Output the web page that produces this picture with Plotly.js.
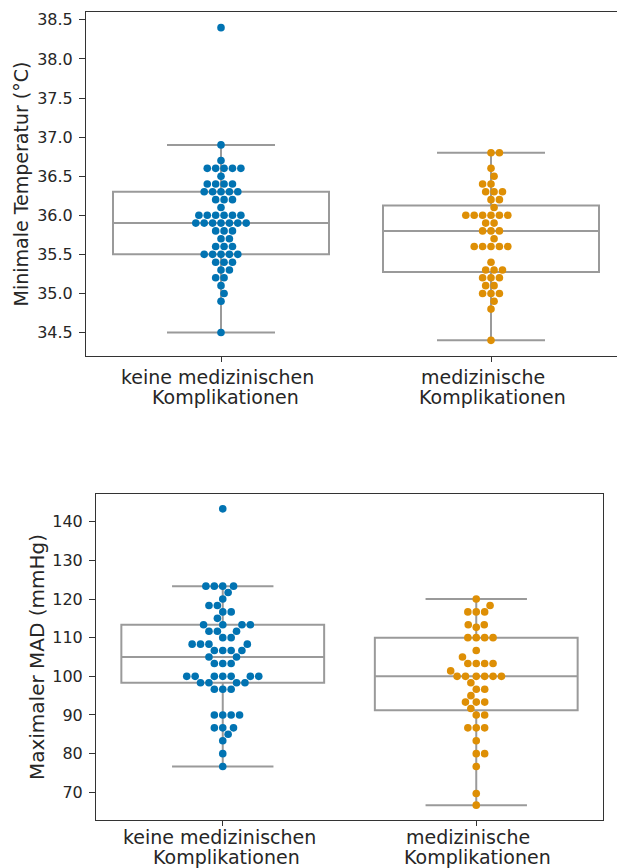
<!DOCTYPE html>
<html>
<head>
<meta charset="utf-8">
<script src="https://cdn.plot.ly/plotly-3.0.1.min.js"></script>
<style>html,body{margin:0;padding:0;background:#fff;}#chart{width:617px;height:868px;}</style>
</head>
<body>
<div id="chart"></div>
<script>
// ---------- data ----------
const categoryLine1 = ['keine medizinischen', 'medizinische'];
const categoryLine2 = ['Komplikationen', 'Komplikationen'];

const tempKeine = [38.4, 36.9, 36.7, 36.6, 36.6, 36.6, 36.6, 36.6, 36.5, 36.4, 36.4, 36.4, 36.4,
  36.3, 36.3, 36.3, 36.3, 36.3, 36.2, 36.2, 36.2, 36.1, 36.0, 36.0, 36.0, 36.0, 36.0, 36.0,
  35.9, 35.9, 35.9, 35.9, 35.9, 35.9, 35.9, 35.8, 35.8, 35.8, 35.7, 35.7, 35.6, 35.6, 35.6,
  35.5, 35.5, 35.5, 35.5, 35.5, 35.4, 35.4, 35.4, 35.3, 35.3, 35.2, 35.2, 35.1, 35.0, 34.9, 34.5];

const tempMed = [36.8, 36.8, 36.6, 36.5, 36.4, 36.4, 36.3, 36.3, 36.3, 36.2, 36.2, 36.1,
  36.0, 36.0, 36.0, 36.0, 36.0, 36.0, 35.9, 35.9, 35.8, 35.8, 35.8, 35.7,
  35.6, 35.6, 35.6, 35.6, 35.6, 35.4, 35.3, 35.3, 35.3, 35.2, 35.2, 35.2,
  35.1, 35.1, 35.0, 35.0, 35.0, 34.9, 34.8, 34.4];

const madKeine = [143.33, 123.33, 123.33, 123.33, 123.33, 121.67, 120, 118.33, 118.33,
  116.67, 116.67, 115, 113.33, 113.33, 113.33, 113.33, 111.67, 111.67, 111.67, 110, 110,
  108.33, 108.33, 108.33, 108.33, 106.67, 106.67, 106.67, 106.67, 105, 105,
  103.33, 103.33, 103.33, 100, 100, 100, 100, 100, 100, 100, 98.33, 98.33, 98.33, 98.33,
  96.67, 96.67, 96.67, 90, 90, 90, 90, 86.67, 86.67, 86.67, 85, 83.33, 80, 76.67];

const madMed = [120, 118.33, 116.67, 116.67, 116.67, 113.33, 113.33, 112.67, 110, 110, 110, 110,
  106.67, 105, 103.33, 103.33, 103.33, 103.33, 101.4, 100, 100, 100, 100, 100, 100,
  98.33, 96.67, 96.67, 95, 93.33, 93.33, 93.33, 91.67, 90, 90, 86.67, 86.67, 86.67,
  83.33, 80, 80, 76.67, 69.67, 66.67];

// box statistics: [keine, medizinische]
const tempQ1 = [35.5, 35.275], tempMedian = [35.9, 35.8], tempQ3 = [36.3, 36.125];
const tempLow = [34.5, 34.4], tempHigh = [36.9, 36.8];
const madQ1 = [98.33, 91.25], madMedian = [105, 100], madQ3 = [113.33, 110];
const madLow = [76.67, 66.67], madHigh = [123.33, 120];

const yTitles = ['Minimale Temperatur (°C)', 'Maximaler MAD (mmHg)'];
const colors = ['#0173b2', '#de8f05'];

// ---------- layout geometry ----------
const W = 617, H = 868;
const gTop = {x0: 86, x1: 617, y0: 12, y1: 356, xr: [-0.5, -0.5 + (617 - 86) / 270], yr: [34.2, 38.6],
  lab1: 376.5, lab2: 397};
const gBot = {x0: 96, x1: 603, y0: 494, y1: 820, xr: [-0.5, 1.5], yr: [62.83, 147.17],
  lab1: 837, lab2: 856.5};
const shift1 = [-3.5, -8.5], shift2 = [4, 1.5];

// ---------- swarm ----------
function swarm(values, pxPerY, pxPerX, d) {
  const idx = values.map((v, i) => i).sort((a, b) => values[a] - values[b]);
  const placed = [];
  const offs = new Array(values.length).fill(0);
  idx.forEach(i => {
    const y = values[i] * pxPerY;
    const neigh = placed.filter(p => Math.abs(p.y - y) < d);
    const cands = [0];
    neigh.forEach(p => {
      const dx = Math.sqrt(d * d - (p.y - y) * (p.y - y));
      cands.push(p.x + dx + 1e-6, p.x - dx - 1e-6);
    });
    cands.sort((a, b) => Math.abs(a) - Math.abs(b) || b - a);
    let x = 0;
    for (const c of cands) {
      if (neigh.every(p => (p.x - c) ** 2 + (p.y - y) ** 2 >= d * d - 1e-6)) { x = c; break; }
    }
    placed.push({x, y});
    offs[i] = x / pxPerX;
  });
  return offs;
}

function makeTraces(groups, q1, med, q3, lo, hi, g, ax) {
  const pxY = (g.y1 - g.y0) / (g.yr[1] - g.yr[0]);
  const pxX = (g.x1 - g.x0) / (g.xr[1] - g.xr[0]);
  const tr = [];
  groups.forEach((vals, k) => {
    tr.push({
      type: 'box', x: [k], q1: [q1[k]], median: [med[k]], q3: [q3[k]],
      lowerfence: [lo[k]], upperfence: [hi[k]],
      width: 0.8, whiskerwidth: 0.5, fillcolor: 'white',
      line: {color: '#9a9a9a', width: 2}, xaxis: 'x' + ax, yaxis: 'y' + ax,
      hoverinfo: 'skip', showlegend: false
    });
  });
  groups.forEach((vals, k) => {
    const off = swarm(vals, pxY, pxX, 8.4);
    tr.push({
      type: 'scatter', mode: 'markers', x: off.map(o => k + o), y: vals,
      marker: {color: colors[k], size: 7.6, line: {width: 0}},
      xaxis: 'x' + ax, yaxis: 'y' + ax, showlegend: false, hoverinfo: 'y'
    });
  });
  return tr;
}

const traces = [].concat(
  makeTraces([tempKeine, tempMed], tempQ1, tempMedian, tempQ3, tempLow, tempHigh, gTop, ''),
  makeTraces([madKeine, madMed], madQ1, madMedian, madQ3, madLow, madHigh, gBot, '2')
);

const fontFam = 'DejaVu Sans, sans-serif';
const labFont = {family: fontFam, size: 19, color: '#262626'};
function xAx(g) {
  return {
    domain: [g.x0 / W, g.x1 / W], range: g.xr, tickmode: 'array', tickvals: [0, 1],
    showticklabels: false,
    showgrid: false, zeroline: false, showline: true, mirror: true, linecolor: '#333', linewidth: 1,
    ticks: 'outside', ticklen: 5, tickcolor: '#333'
  };
}
function yAx(g, dtick, t0, fmt, title, tsize, so) {
  return {
    domain: [1 - g.y1 / H, 1 - g.y0 / H], range: g.yr, tick0: t0, dtick: dtick, tickformat: fmt,
    showgrid: false, zeroline: false, showline: true, mirror: true, linecolor: '#333', linewidth: 1,
    ticks: 'outside', ticklen: 6, tickcolor: '#333', ticklabelstandoff: 3,
    tickfont: {family: fontFam, size: 16, color: '#262626'},
    title: {text: title, font: {family: fontFam, size: tsize, color: '#262626'}, standoff: so}
  };
}

// category labels (two lines each) under both x axes
const annotations = [];
[[gTop, 'x'], [gBot, 'x2']].forEach(([g, xr]) => {
  [0, 1].forEach(k => {
    annotations.push({xref: xr, yref: 'paper', x: k, y: 1 - g.lab1 / H, xshift: shift1[k],
      text: categoryLine1[k], showarrow: false, xanchor: 'center', yanchor: 'middle', font: labFont});
    annotations.push({xref: xr, yref: 'paper', x: k, y: 1 - g.lab2 / H, xshift: shift2[k],
      text: categoryLine2[k], showarrow: false, xanchor: 'center', yanchor: 'middle', font: labFont});
  });
});

const layout = {
  width: W, height: H, margin: {l: 0, r: 0, t: 0, b: 0},
  paper_bgcolor: 'white', plot_bgcolor: 'white', showlegend: false,
  xaxis: Object.assign(xAx(gTop), {anchor: 'y'}),
  yaxis: Object.assign(yAx(gTop, 0.5, 34.5, '.1f', yTitles[0], 19, 3), {anchor: 'x'}),
  xaxis2: Object.assign(xAx(gBot), {anchor: 'y2'}),
  yaxis2: Object.assign(yAx(gBot, 10, 70, 'd', yTitles[1], 20, 2), {anchor: 'x2'}),
  annotations: annotations
};

Plotly.newPlot('chart', traces, layout, {displayModeBar: false, staticPlot: true});
</script>
</body>
</html>
